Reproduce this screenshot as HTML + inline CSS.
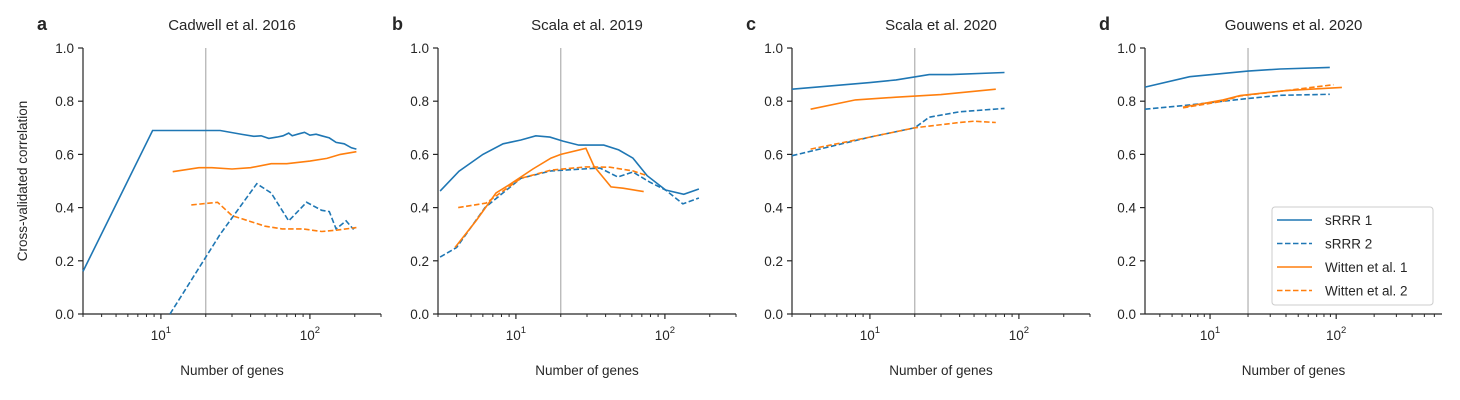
<!DOCTYPE html>
<html><head><meta charset="utf-8"><style>
body{margin:0;background:#fff;}
svg{display:block;font-family:"Liberation Sans",sans-serif;}
</style></head><body>
<svg id="chart" width="1460" height="400" viewBox="0 0 1460 400" xmlns="http://www.w3.org/2000/svg"></svg>
<script>
const panelTitles=["Cadwell et al. 2016","Scala et al. 2019","Scala et al. 2020","Gouwens et al. 2020"];
const panelLetters=["a","b","c","d"];
const yTicks=[0,0.2,0.4,0.6,0.8,1.0];
const seriesNames=["sRRR 1","sRRR 2","Witten et al. 1","Witten et al. 2"];
// panel a
const aS1x=[3,8.8,20,25,35,42,47,53,60,66,72,76,85,92,100,110,120,135,150,170,190,205];
const aS1y=[0.16,0.69,0.69,0.69,0.675,0.668,0.67,0.66,0.665,0.67,0.68,0.67,0.678,0.683,0.672,0.676,0.67,0.662,0.645,0.64,0.625,0.62];
const aS2x=[11.5,25,44,55,72,95,120,135,150,175,195,205];
const aS2y=[0,0.3,0.49,0.455,0.35,0.42,0.39,0.385,0.32,0.35,0.32,0.33];
const aW1x=[12,18,22,30,40,55,70,100,130,160,205];
const aW1y=[0.535,0.55,0.55,0.545,0.55,0.565,0.565,0.575,0.585,0.6,0.61];
const aW2x=[16,24,30,50,65,90,120,150,205];
const aW2y=[0.41,0.42,0.37,0.33,0.32,0.32,0.31,0.315,0.325];
// panel b
const bS1x=[3.1,4.15,6.0,8.2,10.8,13.6,16.9,20.7,26.4,38.9,49,61,76,101,134,169];
const bS1y=[0.462,0.537,0.6,0.64,0.654,0.67,0.665,0.65,0.635,0.635,0.617,0.586,0.52,0.466,0.45,0.47];
const bS2x=[3.1,4.0,6.2,10.8,17.2,36.6,48.3,61,79,101,132,169];
const bS2y=[0.214,0.25,0.4,0.51,0.538,0.549,0.515,0.534,0.496,0.466,0.414,0.436];
const bW1x=[3.9,5.4,7.35,9.25,13,17.2,20,29.5,33.4,43.5,52.3,72];
const bW1y=[0.25,0.35,0.455,0.49,0.545,0.586,0.6,0.623,0.556,0.478,0.473,0.46];
const bW2x=[4.1,6.3,10.8,17.2,29.5,42.7,61,74];
const bW2y=[0.4,0.417,0.51,0.541,0.553,0.552,0.538,0.522];
// panel c
const cS1x=[3,10,15,25,35,80];
const cS1y=[0.845,0.87,0.88,0.9,0.9,0.908];
const cS2x=[3,10,20,25,40,80];
const cS2y=[0.595,0.665,0.7,0.74,0.76,0.773];
const cW1x=[4,8,15,30,70];
const cW1y=[0.77,0.805,0.815,0.825,0.845];
const cW2x=[4,10,20,40,50,70];
const cW2y=[0.62,0.665,0.7,0.72,0.725,0.72];
// panel d
const dS1x=[3.05,6.9,20,35.9,89];
const dS1y=[0.853,0.892,0.913,0.921,0.927];
const dS2x=[3.05,6.6,20,35.9,89];
const dS2y=[0.77,0.785,0.81,0.822,0.826];
const dW1x=[6.1,12.7,17.3,40,111];
const dW1y=[0.778,0.805,0.821,0.84,0.852];
const dW2x=[6.1,12.7,17.3,40,95];
const dW2y=[0.775,0.8,0.82,0.84,0.862];

const panels=[
 {x0:83,x1:381,xmin:3,xmax:300,s:[[aS1x,aS1y],[aS2x,aS2y],[aW1x,aW1y],[aW2x,aW2y]]},
 {x0:438,x1:736,xmin:3,xmax:300,s:[[bS1x,bS1y],[bS2x,bS2y],[bW1x,bW1y],[bW2x,bW2y]]},
 {x0:792,x1:1090,xmin:3,xmax:300,s:[[cS1x,cS1y],[cS2x,cS2y],[cW1x,cW1y],[cW2x,cW2y]]},
 {x0:1145,x1:1442,xmin:3.05,xmax:690,s:[[dS1x,dS1y],[dS2x,dS2y],[dW1x,dW1y],[dW2x,dW2y]]}
];
const colors=["#1f77b4","#1f77b4","#ff7f0e","#ff7f0e"];
const dashes=[null,"5.5,2.5",null,"5.5,2.5"];
const yTop=48,yBot=314;
const svg=document.getElementById('chart');
const NS="http://www.w3.org/2000/svg";
function mk(tag,attrs,parent){const e=document.createElementNS(NS,tag);for(const k in attrs)e.setAttribute(k,attrs[k]);(parent||svg).appendChild(e);return e;}
const yS=v=>yBot-(yBot-yTop)*v;
panels.forEach((p,pi)=>{
  const xS=v=>p.x0+(Math.log10(v)-Math.log10(p.xmin))/(Math.log10(p.xmax)-Math.log10(p.xmin))*(p.x1-p.x0);
  const g=mk('g',{});
  
  
  const t=mk('text',{x:(p.x0+p.x1)/2,y:30,'text-anchor':'middle','font-size':15,fill:'#262626'},g);
  t.textContent=panelTitles[pi];
  
  
  const L=mk('text',{x:p.x0-46,y:30,'font-size':18,'font-weight':'bold',fill:'#262626'},g);
  L.textContent=panelLetters[pi];
  
  
  const vl=mk('line',{x1:xS(20),x2:xS(20),y1:yTop,y2:yBot,stroke:'#b0b0b0','stroke-width':1.2},g);
  
  
  mk('line',{x1:p.x0,x2:p.x0,y1:yTop,y2:yBot,stroke:'#262626','stroke-width':1.2},g);
  yTicks.forEach(v=>{
    mk('line',{x1:p.x0-5,x2:p.x0,y1:yS(v),y2:yS(v),stroke:'#262626','stroke-width':1.2},g);
    const tl=mk('text',{x:p.x0-9,y:yS(v)+5,'text-anchor':'end','font-size':13.5,fill:'#262626'},g);
    tl.textContent=v.toFixed(1);
    
    
  });
  mk('line',{x1:p.x0,x2:p.x1,y1:yBot,y2:yBot,stroke:'#262626','stroke-width':1.2},g);
  for(let d=0;d<=3;d++){for(let m=1;m<10;m++){const v=m*Math.pow(10,d);if(v<p.xmin||v>p.xmax)continue;
    const big=(m==1);
    mk('line',{x1:xS(v),x2:xS(v),y1:yBot,y2:yBot+(big?5:3),stroke:'#262626','stroke-width':big?1.2:1},g);
    if(big&&d>0){const tl=mk('text',{x:xS(v),y:yBot+26,'text-anchor':'middle','font-size':13.5,fill:'#262626'},g);
      
      
      const b=document.createElementNS(NS,'tspan');b.textContent='10';tl.appendChild(b);
      const sp=document.createElementNS(NS,'tspan');sp.setAttribute('dy','-7');sp.setAttribute('font-size','9.5');sp.textContent=String(d);tl.appendChild(sp);
    }
  }}
  const xl=mk('text',{x:(p.x0+p.x1)/2,y:375,'text-anchor':'middle','font-size':13.5,fill:'#262626'},g);
  xl.textContent='Number of genes';
  
  
  p.s.forEach((s,si)=>{
    const pts=s[0].map((x,i)=>xS(x).toFixed(1)+','+yS(s[1][i]).toFixed(1)).join(' ');
    const a={points:pts,fill:'none',stroke:colors[si],'stroke-width':1.6};
    if(dashes[si])a['stroke-dasharray']=dashes[si];
    const pl=mk('polyline',a,g);
    
    
  });
});
const yt=mk('text',{x:0,y:0,transform:'translate(27,181) rotate(-90)','text-anchor':'middle','font-size':13.5,fill:'#262626'});
yt.textContent='Cross-validated correlation';


const lg=mk('g',{});


mk('rect',{x:1272,y:207,width:161,height:98,rx:3,fill:'#fff',stroke:'#cccccc','stroke-width':1},lg);
seriesNames.forEach((n,i)=>{
  const y=220+i*23.5;
  const a={x1:1277,x2:1312,y1:y,y2:y,stroke:colors[i],'stroke-width':1.6};
  if(dashes[i])a['stroke-dasharray']=dashes[i];
  const ln=mk('line',a,lg);
  
  
  const tx=mk('text',{x:1325,y:y+5,'font-size':13.5,fill:'#262626'},lg);
  tx.textContent=n;
  
  
});
</script>
</body></html>
